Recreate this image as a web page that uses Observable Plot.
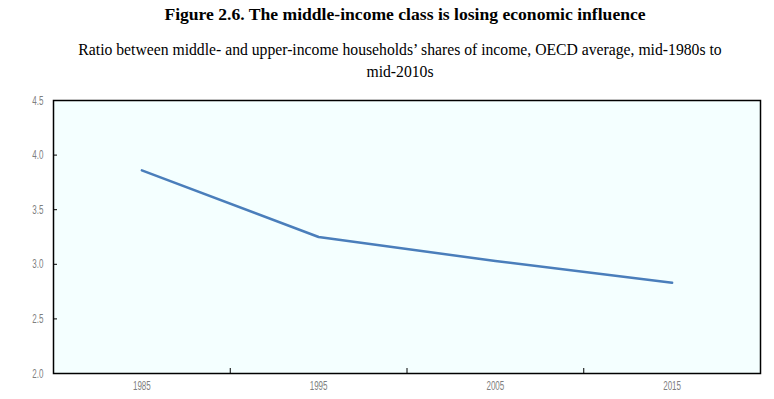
<!DOCTYPE html>
<html>
<head>
<meta charset="utf-8">
<script src="https://cdn.jsdelivr.net/npm/d3@7"></script>
<script src="https://cdn.jsdelivr.net/npm/@observablehq/plot@0.6"></script>
<style>
  html, body { margin: 0; padding: 0; background: #ffffff; }
  #wrap { width: 774px; }
  #title { font-family: "Liberation Serif", "Times New Roman", serif; font-weight: bold; font-size: 17.6px; text-align: center; height: 30px; line-height: 28px; color: #000; padding-left: 36px; box-sizing: border-box; }
  #subtitle { font-family: "Liberation Serif", "Times New Roman", serif; font-size: 15.7px; text-align: center; line-height: 22px; height: 60px; padding-top: 9px; box-sizing: border-box; color: #000; padding-left: 26px; }
  svg text { font-family: "Liberation Sans", Arial, sans-serif; }
</style>
</head>
<body>
<div id="wrap">
  <div id="title">Figure 2.6. The middle-income class is losing economic influence</div>
  <div id="subtitle">Ratio between middle- and upper-income households’ shares of income, OECD average, mid-1980s to<br>mid-2010s</div>
  <div id="chart"></div>
</div>
<script>
const years = [1985, 1995, 2005, 2015];
const ratio = [3.86, 3.25, 3.03, 2.83];
const yTicks = [2.0, 2.5, 3.0, 3.5, 4.0, 4.5];
const xSeparators = [1990, 2000, 2010];

const data = years.map((year, i) => ({year, value: ratio[i]}));

const chart = Plot.plot({
  width: 774,
  height: 309,
  marginTop: 10,
  marginLeft: 53,
  marginRight: 14,
  marginBottom: 26,
  style: {fontSize: "13px", color: "#7f7f7f", background: "transparent"},
  x: {domain: [1980, 2020]},
  y: {domain: [2.0, 4.5]},
  marks: [
    Plot.frame({fill: "#f4ffff", stroke: "none"}),
    Plot.line(data, {x: "year", y: "value", stroke: "#4a7ebb", strokeWidth: 2.5, strokeLinejoin: "round"}),
    Plot.axisY({ticks: yTicks, tickSize: 0, tickPadding: 10, fontSize: 13, tickFormat: d => d.toFixed(1), fill: "#7f7f7f", label: null}),
    Plot.axisY({ticks: yTicks.slice(1, -1), tickSize: -4, tickFormat: () => "", stroke: "#000", strokeWidth: 1, label: null}),
    Plot.axisX({ticks: years, tickSize: 0, tickPadding: 7, fontSize: 13, tickFormat: d => String(d), fill: "#7f7f7f", label: null}),
    Plot.axisX({ticks: xSeparators, tickSize: -5, tickFormat: () => "", stroke: "#000", strokeWidth: 1, label: null}),
    Plot.frame({stroke: "#000", strokeWidth: 1.5})
  ]
});
// condense the tick labels horizontally (narrow sans look of the original)
chart.querySelectorAll('g[aria-label$="tick label"] text').forEach(t => {
  const tr = t.getAttribute("transform") || "";
  t.setAttribute("transform", tr + " scale(0.62,1)");
});
document.getElementById("chart").appendChild(chart);
</script>
</body>
</html>
